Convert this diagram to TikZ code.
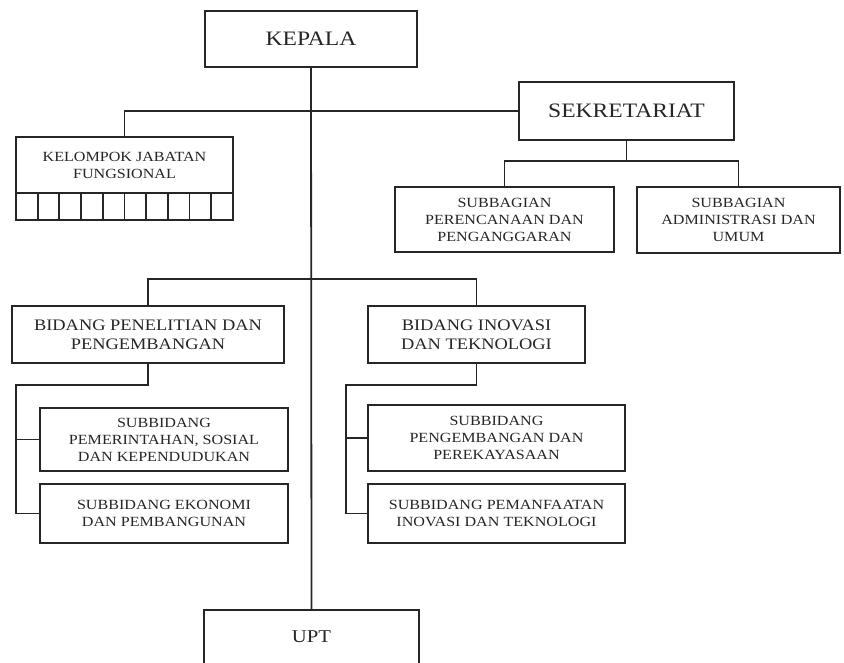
\documentclass[tikz,border=0pt]{standalone}
\usepackage{fontspec}
\setmainfont{Liberation Serif}[FakeStretch=1.15]
\usetikzlibrary{calc}
\begin{document}
\begin{tikzpicture}[x=1pt,y=-1pt,
  box/.style={draw=black!85, line width=2pt, align=center, inner sep=0pt, outer sep=0pt, text=black!85},
  big/.style={font=\fontsize{20.5}{24}\selectfont},
  mid/.style={font=\fontsize{16}{19}\selectfont},
  small/.style={font=\fontsize{14}{17}\selectfont},
  conn/.style={draw=black!85, line width=1.8pt}]
\useasboundingbox (0,0) rectangle (844,663);
\clip (0,0) rectangle (844,663);
\fill[white] (0,0) rectangle (844,663);

\node[box,big,minimum width=212pt,minimum height=56pt] (kepala) at (311,39) {KEPALA};
\node[box,big,minimum width=215pt,minimum height=58pt] (sekr) at (626.5,111) {SEKRETARIAT};
\node[box,small,minimum width=217pt,minimum height=56pt] (kjf) at (124.5,165) {KELOMPOK JABATAN\\FUNGSIONAL};
\node[box,small,minimum width=219pt,minimum height=65pt] (perenc) at (504.5,219.5) {SUBBAGIAN\\PERENCANAAN DAN\\PENGANGGARAN};
\node[box,small,minimum width=203pt,minimum height=66pt] (admin) at (738.5,220) {SUBBAGIAN\\ADMINISTRASI DAN\\UMUM};
\node[box,mid,minimum width=272pt,minimum height=57pt] (bid1) at (148,334.5) {BIDANG PENELITIAN DAN\\PENGEMBANGAN};
\node[box,mid,minimum width=217pt,minimum height=57pt] (bid2) at (476.5,334.5) {BIDANG INOVASI\\DAN TEKNOLOGI};
\node[box,small,minimum width=248pt,minimum height=63pt] (sb1) at (164,439.5) {SUBBIDANG\\PEMERINTAHAN, SOSIAL\\DAN KEPENDUDUKAN};
\node[box,small,minimum width=248pt,minimum height=59pt] (sb2) at (164,513.5) {SUBBIDANG EKONOMI\\DAN PEMBANGUNAN};
\node[box,small,minimum width=257pt,minimum height=66pt] (sb3) at (496.5,438) {SUBBIDANG\\PENGEMBANGAN DAN\\PEREKAYASAAN};
\node[box,small,minimum width=257pt,minimum height=59pt] (sb4) at (496.5,513.5) {SUBBIDANG PEMANFAATAN\\INOVASI DAN TEKNOLOGI};
\node[box,font=\fontsize{18}{21}\selectfont,minimum width=215pt,minimum height=54pt] (upt) at (311.5,637) {UPT};

% cells under KJF
\draw[box] (kjf.south west) rectangle ($(kjf.south east)+(0,27)$);
\foreach \i in {1,...,9} {
  \draw[conn] ($(kjf.south west)!\i/10!(kjf.south east)$) -- ++(0,27);
}

% connectors
\draw[conn] (kepala.south) -- (upt.north);
\draw[conn] (kjf.north) |- (sekr.west);

\coordinate (sbus) at (0,161);
\draw[conn] (sekr.south) -- (sekr.south |- sbus);
\draw[conn] (perenc.north) -- (perenc.north |- sbus) -- (admin.north |- sbus) -- (admin.north);

\coordinate (bbus) at (0,279);
\draw[conn] (bid1.north) -- (bid1.north |- bbus) -- (bid2.north |- bbus) -- (bid2.north);

\coordinate (l1) at (16,385);
\draw[conn] (bid1.south) |- (l1) |- (sb2.west);
\draw[conn] (l1 |- sb1.west) -- (sb1.west);

\coordinate (r1) at (346,385);
\draw[conn] (bid2.south) |- (r1) |- (sb4.west);
\draw[conn] (r1 |- sb3.west) -- (sb3.west);
\end{tikzpicture}
\end{document}
